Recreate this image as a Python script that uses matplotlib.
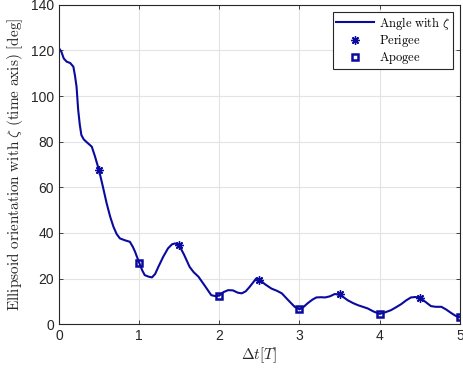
import matplotlib.pyplot as plt

plt.rcParams['mathtext.fontset'] = 'cm'
plt.rcParams['font.family'] = ['Liberation Sans', 'DejaVu Sans']

# orientation angle of the ellipsoid vs. elapsed time (orbit periods)
t = [0.0, 0.03, 0.06, 0.096, 0.14, 0.18, 0.20, 0.22, 0.24, 0.26, 0.28, 0.31, 0.34,
     0.41, 0.45, 0.5, 0.55, 0.595, 0.64, 0.68, 0.72, 0.76, 0.82, 0.885, 0.92, 0.95,
     1.0, 1.04, 1.07, 1.12, 1.16, 1.2, 1.24, 1.3, 1.36, 1.41, 1.45, 1.5, 1.56, 1.63,
     1.68, 1.74, 1.82, 1.9, 1.95, 2.0, 2.05, 2.11, 2.17, 2.23, 2.28, 2.33, 2.38, 2.46,
     2.5, 2.57, 2.65, 2.72, 2.78, 2.86, 2.94, 3.0, 3.05, 3.1, 3.16, 3.21, 3.27, 3.32,
     3.38, 3.44, 3.5, 3.55, 3.6, 3.67, 3.73, 3.79, 3.85, 3.92, 4.0, 4.07, 4.14, 4.2,
     4.27, 4.33, 4.39, 4.45, 4.5, 4.57, 4.64, 4.7, 4.77, 4.83, 4.9, 4.95, 5.0]
angle = [121.0, 119.5, 116.5, 115.1, 114.5, 112.9, 109.0, 104.0, 94.0, 87.5, 82.9, 81.0, 80.0,
         77.8, 73.5, 67.5, 60.0, 53.0, 47.0, 42.7, 39.5, 37.6, 36.8, 36.1, 34.0, 31.7,
         27.0, 23.5, 21.5, 20.8, 20.5, 22.0, 25.1, 29.5, 33.2, 35.0, 35.4, 34.5, 30.5, 25.1,
         22.8, 20.8, 16.8, 12.7, 12.3, 12.5, 14.0, 14.9, 14.8, 13.8, 13.5, 14.4, 16.4, 20.0,
         19.5, 17.5, 15.6, 14.6, 13.5, 10.5, 7.6, 6.5, 7.5, 9.1, 10.7, 11.7, 11.8, 11.7,
         12.2, 13.2, 13.0, 11.8, 10.5, 9.2, 8.3, 7.6, 6.9, 5.6, 4.5, 5.2, 6.1, 7.3,
         8.8, 10.4, 11.7, 11.9, 11.5, 9.8, 7.9, 7.6, 7.6, 6.4, 4.7, 3.6, 3.0]

t_perigee = [0.5, 1.5, 2.5, 3.5, 4.5]
angle_perigee = [67.5, 34.5, 19.5, 13.0, 11.5]
t_apogee = [1, 2, 3, 4, 5]
angle_apogee = [27.0, 12.5, 6.5, 4.5, 3.0]

blue = '#0a0a9e'
axis_col = '#262626'

fig = plt.figure(figsize=(4.64, 3.73), dpi=100)
ax = fig.add_axes([0.127, 0.131, 0.864, 0.856])

ax.plot(t, angle, color=blue, linewidth=1.5, label=r'$\mathrm{Angle\ with\ }\zeta$')
# 8-armed asterisk marker for the perigee passages
ax.plot(t_perigee, angle_perigee, linestyle='none', marker=(8, 2, 0), markersize=6,
        markeredgewidth=1.0, color=blue, label=r'$\mathrm{Perigee}$')
ax.plot(t_apogee, angle_apogee, linestyle='none', marker='s', markersize=5,
        markerfacecolor='none', markeredgewidth=1.8, color=blue,
        label=r'$\mathrm{Apogee}$')

ax.set_xlim(0, 5)
ax.set_ylim(0, 140)
ax.set_xticks(range(0, 6))
ax.set_yticks(range(0, 141, 20))
ax.grid(True, color='#e3e3e3', linewidth=0.8)
ax.set_axisbelow(True)
ax.tick_params(direction='in', top=True, right=True, length=3, labelsize=10,
               colors=axis_col, width=0.6)
for sp in ax.spines.values():
    sp.set_color(axis_col)
    sp.set_linewidth(0.8)

ax.set_xlabel(r'$\Delta t[T]$', fontsize=11, color=axis_col, labelpad=2)
ax.set_ylabel(r'$\mathrm{Ellipsoid\ orientation\ with\ }\zeta\mathrm{\ (time\ axis)\ [deg]}$',
              fontsize=11, color=axis_col, labelpad=4)

leg = ax.legend(loc='upper right', fontsize=9, fancybox=False, framealpha=1,
                edgecolor=axis_col, borderaxespad=0.55, handlelength=3.0,
                borderpad=0.25, labelspacing=0.1, handletextpad=0.4)
leg.get_frame().set_linewidth(0.8)

fig.savefig('out.png', dpi=100)
